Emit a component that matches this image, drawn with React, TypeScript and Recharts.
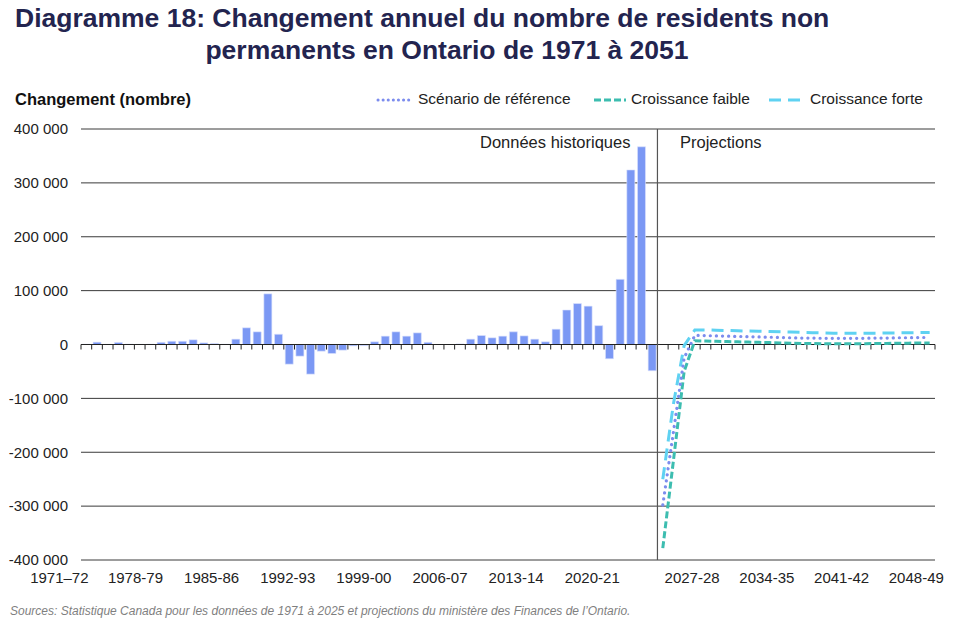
import React from "react";
import {
  Bar,
  CartesianGrid,
  ComposedChart,
  Line,
  ReferenceLine,
  XAxis,
  YAxis,
} from "recharts";

const YEARS = [
  "1971-72", "1972-73", "1973-74", "1974-75", "1975-76", "1976-77", "1977-78", "1978-79",
  "1979-80", "1980-81", "1981-82", "1982-83", "1983-84", "1984-85", "1985-86", "1986-87",
  "1987-88", "1988-89", "1989-90", "1990-91", "1991-92", "1992-93", "1993-94", "1994-95",
  "1995-96", "1996-97", "1997-98", "1998-99", "1999-00", "2000-01", "2001-02", "2002-03",
  "2003-04", "2004-05", "2005-06", "2006-07", "2007-08", "2008-09", "2009-10", "2010-11",
  "2011-12", "2012-13", "2013-14", "2014-15", "2015-16", "2016-17", "2017-18", "2018-19",
  "2019-20", "2020-21", "2021-22", "2022-23", "2023-24", "2024-25", "2025-26", "2026-27",
  "2027-28", "2028-29", "2029-30", "2030-31", "2031-32", "2032-33", "2033-34", "2034-35",
  "2035-36", "2036-37", "2037-38", "2038-39", "2039-40", "2040-41", "2041-42", "2042-43",
  "2043-44", "2044-45", "2045-46", "2046-47", "2047-48", "2048-49", "2049-50", "2050-51",
];

const TICK_LABELS = [
  "1971–72", "1978-79", "1985-86", "1992-93", "1999-00", "2006-07",
  "2013-14", "2020-21", "2027-28", "2034-35", "2041-42", "2048-49",
];

// données historiques 1971-72 à 2024-25
const HISTORICAL = [
  500, 4300, 300, 3800, 800, 300, 600, 4000, 6000, 6000,
  8700, 3000, 1800, 600, 9900, 31000, 23500, 94000, 19000, -36500,
  -21600, -55000, -12400, -16700, -10500, -2500, -2000, 5000, 15500, 23500,
  15500, 21600, 4000, 0, 0, 1000, 9900, 16700, 12400, 15500,
  23500, 16000, 9900, 5000, 28400, 64000, 76000, 71200, 35000, -26500,
  121000, 324000, 367000, -48700,
];

// projections 2025-26 à 2050-51
const REFERENCE = [
  -298000, -162000, -25000, 17000, 16500, 16000, 15500, 15000, 14500, 14000,
  13500, 13000, 12500, 12000, 12000, 11500, 11500, 11500, 11500, 11500,
  12000, 12000, 12500, 12500, 13000, 13000,
];
const LOW = [
  -378000, -215000, -50000, 7000, 6500, 6000, 5500, 5000, 4500, 4000,
  3500, 3000, 2500, 2000, 2000, 1500, 1500, 1500, 1500, 1500,
  2000, 2000, 2500, 2500, 3000, 3000,
];
const HIGH = [
  -250000, -110000, -2000, 27000, 27000, 26500, 26000, 25500, 25000, 24500,
  24000, 23500, 23000, 22500, 22000, 21500, 21000, 21000, 21000, 21000,
  21000, 21500, 21500, 22000, 22000, 22500,
];

const Y_TICKS = [-400000, -300000, -200000, -100000, 0, 100000, 200000, 300000, 400000];

const data = YEARS.map((year, i) => {
  const p = i - HISTORICAL.length;
  return {
    year,
    hist: i < HISTORICAL.length ? HISTORICAL[i] : null,
    ref: p >= 0 ? REFERENCE[p] : null,
    low: p >= 0 ? LOW[p] : null,
    high: p >= 0 ? HIGH[p] : null,
  };
});

const FONT = '"Liberation Sans", Arial, sans-serif';
const BAR_COLOR = "#7b98f4";
const REF_COLOR = "#7c8cee";
const LOW_COLOR = "#3dbdb0";
const HIGH_COLOR = "#5fd2f2";

const PLOT_LEFT = 81;
const PLOT_RIGHT = 935;
const HALF_BAND = (PLOT_RIGHT - PLOT_LEFT) / YEARS.length / 2;

const fmt = (v: number) => {
  const s = Math.abs(v).toString().replace(/\B(?=(\d{3})+(?!\d))/g, " ");
  return v < 0 ? "-" + s : s;
};

const XTick = (props: any) => {
  const { x, y, index } = props;
  if (index % 7 !== 0) return null;
  const label = TICK_LABELS[index / 7];
  const nudge = index >= 56 ? 8 : -27 + index / 7 * 1.4;
  return (
    <text x={x + nudge} y={y + 23} textAnchor="middle" fontSize={15} fill="#222" fontFamily={FONT}>
      {label}
    </text>
  );
};

const ZeroAxis = (props: any) => {
  const { x1, x2, y1 } = props;
  const step = (x2 - x1) / YEARS.length;
  return (
    <g>
      <line x1={x1} x2={x2} y1={y1} y2={y1} stroke="#222" strokeWidth={1.2} />
      {YEARS.concat([""]).map((_, k) => (
        <line key={k} x1={x1 + k * step} x2={x1 + k * step} y1={y1} y2={y1 + 5} stroke="#222" strokeWidth={1} />
      ))}
    </g>
  );
};

const Divider = (props: any) => {
  const { x1, y1, y2 } = props;
  return <line x1={x1 - HALF_BAND} x2={x1 - HALF_BAND} y1={y1} y2={y2} stroke="#555" strokeWidth={1.2} />;
};

const LegendItem = ({ left, color, dash, text, textLeft }: any) => (
  <>
    <svg style={{ position: "absolute", left, top: 93 }} width={36} height={14}>
      <line x1={2} x2={34} y1={7} y2={7} stroke={color} strokeWidth={3} strokeDasharray={dash} strokeLinecap={dash === "0.1 5" ? "round" : "butt"} />
    </svg>
    <div style={{ position: "absolute", left: textLeft, top: 90, fontSize: 15.5, color: "#222" }}>{text}</div>
  </>
);

export default function App() {
  return (
    <div style={{ position: "absolute", left: 0, top: 0, width: 960, height: 624, background: "#fff", fontFamily: FONT, overflow: "hidden" }}>
      <div style={{ position: "absolute", left: 15, top: 3, fontSize: 26.5, fontWeight: 700, color: "#23244f", whiteSpace: "nowrap" }}>
        Diagramme 18: Changement annuel du nombre de residents non
      </div>
      <div style={{ position: "absolute", left: 0, width: 894, top: 35, textAlign: "center", fontSize: 26.5, fontWeight: 700, color: "#23244f", whiteSpace: "nowrap" }}>
        permanents en Ontario de 1971 à 2051
      </div>
      <div style={{ position: "absolute", left: 15, top: 90, fontSize: 16.5, fontWeight: 700, color: "#111" }}>
        Changement (nombre)
      </div>
      <LegendItem left={376} color={REF_COLOR} dash="0.1 5" text="Scénario de référence" textLeft={418} />
      <LegendItem left={592} color={LOW_COLOR} dash="7 3" text="Croissance faible" textLeft={631} />
      <LegendItem left={767} color={HIGH_COLOR} dash="12 7" text="Croissance forte" textLeft={810} />

      <ComposedChart
        width={960}
        height={624}
        data={data}
        margin={{ top: 129, right: 960 - PLOT_RIGHT, bottom: 0, left: 0 }}
        barCategoryGap="13%"
        style={{ position: "absolute", left: 0, top: 0 }}
      >
        <CartesianGrid vertical={false} stroke="#3a3a3a" strokeWidth={1} />
        <XAxis
          dataKey="year"
          interval={0}
          axisLine={false}
          tickLine={false}
          tickSize={0}
          tickMargin={0}
          tick={<XTick />}
          height={64}
        />
        <YAxis
          domain={[-400000, 400000]}
          ticks={Y_TICKS}
          width={PLOT_LEFT}
          axisLine={false}
          tickLine={false}
          tickSize={0}
          tickMargin={13}
          tickFormatter={fmt}
          tick={{ fontSize: 15, fill: "#222", fontFamily: FONT }}
        />
        <Bar dataKey="hist" fill={BAR_COLOR} stroke="#dbe3fd" strokeWidth={0.6} isAnimationActive={false} />
        <ReferenceLine y={0} shape={<ZeroAxis />} />
        <ReferenceLine x="2025-26" shape={<Divider />} />
        <Line dataKey="low" stroke={LOW_COLOR} strokeWidth={3} strokeDasharray="7 3" dot={false} type="linear" isAnimationActive={false} />
        <Line dataKey="high" stroke={HIGH_COLOR} strokeWidth={3} strokeDasharray="12 7" dot={false} type="linear" isAnimationActive={false} />
        <Line dataKey="ref" stroke={REF_COLOR} strokeWidth={3.2} strokeDasharray="0.1 6" strokeLinecap="round" dot={false} type="linear" isAnimationActive={false} />
      </ComposedChart>

      <div style={{ position: "absolute", left: 480, top: 133, fontSize: 16.5, color: "#222" }}>Données historiques</div>
      <div style={{ position: "absolute", left: 680, top: 133, fontSize: 16.5, color: "#222" }}>Projections</div>
      <div style={{ position: "absolute", left: 10, top: 604, fontSize: 12, fontStyle: "italic", color: "#7f7f7f", whiteSpace: "nowrap" }}>
        Sources: Statistique Canada pour les données de 1971 à 2025 et projections du ministère des Finances de l’Ontario.
      </div>
    </div>
  );
}
